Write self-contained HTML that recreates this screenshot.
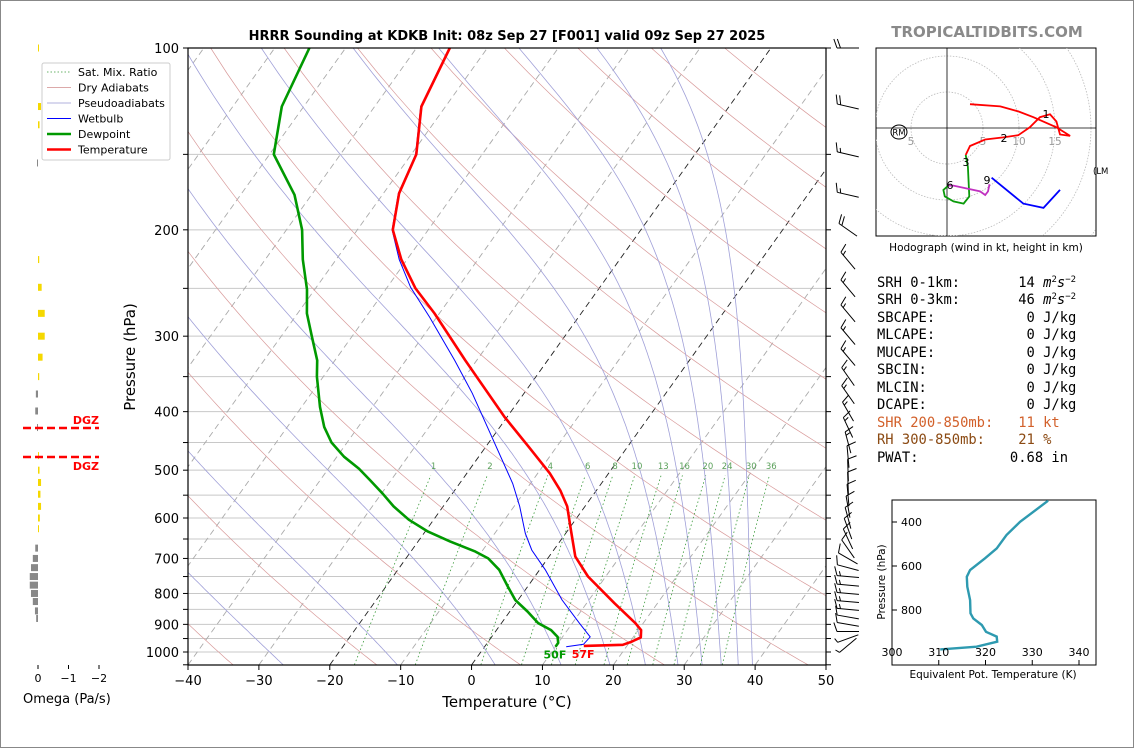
<!DOCTYPE html>
<html><head><meta charset="utf-8"><style>
html,body{margin:0;padding:0;background:#fff;}
svg{display:block;font-family:"DejaVu Sans","Liberation Sans",sans-serif;}
</style></head><body>
<svg id="s" width="1134" height="748" viewBox="0 0 1134 748" xmlns="http://www.w3.org/2000/svg">
<rect x="0.5" y="0.5" width="1133" height="747" fill="#fff" stroke="#888"/>
<defs><clipPath id="pc"><rect x="188" y="48" width="638" height="617"/></clipPath>
<clipPath id="hc"><rect x="876" y="48" width="220" height="188"/></clipPath>
<clipPath id="tc"><rect x="892" y="500" width="204" height="165"/></clipPath></defs>
<text x="507" y="40" text-anchor="middle" font-size="13" font-weight="bold">HRRR Sounding at KDKB Init: 08z Sep 27 [F001] valid 09z Sep 27 2025</text>
<text x="987" y="37" text-anchor="middle" font-size="15" font-weight="bold" fill="#8a8a8a">TROPICALTIDBITS.COM</text>
<g id="bg" clip-path="url(#pc)"></g>
<g id="series" clip-path="url(#pc)"></g>
<g id="axes"></g>
<g id="barbs"></g>
<g id="omega"></g>
<g id="hodo"></g>
<g id="the"></g>
<g id="txt" font-family="'DejaVu Sans Mono','Liberation Mono',monospace" font-size="13.8">
<text x="877" y="287" style="white-space:pre">SRH 0-1km:       14 <tspan font-style="italic">m</tspan><tspan dy="-5" font-size="9">2</tspan><tspan dy="5" font-style="italic">s</tspan><tspan dy="-5" font-size="9">−2</tspan></text>
<text x="877" y="304" style="white-space:pre">SRH 0-3km:       46 <tspan font-style="italic">m</tspan><tspan dy="-5" font-size="9">2</tspan><tspan dy="5" font-style="italic">s</tspan><tspan dy="-5" font-size="9">−2</tspan></text>
<text x="877" y="322" style="white-space:pre">SBCAPE:           0 J/kg</text>
<text x="877" y="339" style="white-space:pre">MLCAPE:           0 J/kg</text>
<text x="877" y="357" style="white-space:pre">MUCAPE:           0 J/kg</text>
<text x="877" y="374" style="white-space:pre">SBCIN:            0 J/kg</text>
<text x="877" y="392" style="white-space:pre">MLCIN:            0 J/kg</text>
<text x="877" y="409" style="white-space:pre">DCAPE:            0 J/kg</text>
<text x="877" y="427" style="white-space:pre" fill="#d2602a">SHR 200-850mb:   11 kt</text>
<text x="877" y="444" style="white-space:pre" fill="#8b4a13">RH 300-850mb:    21 %</text>
<text x="877" y="462" style="white-space:pre">PWAT:           0.68 in</text>
</g>
</svg>
<script>
// ---- Sounding data ----
const tempP=[100,125,150,174,200,224,250,275,329,408,457,506,540,574,628,695,750,830,896,920,946,962,973,977];
const tempC=[-65.3,-63.4,-59.3,-57.8,-55.0,-50.8,-45.9,-40.7,-31.6,-20.4,-14.0,-8.3,-5.1,-2.5,0.4,3.7,7.5,13.9,18.9,20.4,21.1,20.2,19.3,13.9];
const dewP=[100,125,150,175,200,224,251,275,300,329,350,393,424,450,475,497,519,546,574,604,632,656,682,700,731,779,820,857,896,920,944,966,980];
const dewC=[-85.1,-83.1,-79.4,-72.4,-67.8,-64.7,-61.1,-58.7,-55.7,-52.5,-50.9,-47.4,-44.8,-42.2,-39.0,-35.7,-33.0,-29.9,-27.0,-23.5,-19.6,-15.5,-10.9,-8.4,-5.7,-2.8,-0.4,2.5,5.2,7.7,9.3,10.0,10.0];
const wbP=[100,125,150,174,200,224,249,279,329,373,446,526,574,636,678,731,820,896,944,971,980];
const wbC=[-65.4,-63.5,-59.4,-57.9,-55.1,-51.1,-46.7,-41.0,-33.1,-27.3,-19.6,-12.5,-9.2,-5.7,-3.1,0.8,6.2,11.0,13.9,13.7,11.5];
const isoT=[-120,-110,-100,-90,-80,-70,-60,-50,-40,-30,-10,10,20,30,40,50];
const hiIsoT=[-20,0];
const dryT0=[-77,-57,-37,-17,3,23,43,63,83,103,123,143,163,183,203];
const moistT0=[-26.6,-10.5,3.3,12.6,19.5,24.5,29.1,32.5,35.2,37.6,39.6];
const mixW=[1,2,4,6,8,10,13,16,20,24,30,36];
const pGrid=[100,150,200,250,300,350,400,450,500,550,600,650,700,750,800,850,900,950,1000];
const pLabels=[100,200,300,400,500,600,700,800,900,1000];
const tTicks=[-40,-30,-20,-10,0,10,20,30,40,50];
// winds (direction from, degrees; speed kt)
const barbP=[100,125,150,175,200,225,250,275,300,325,350,375,400,425,450,475,500,525,550,575,600,625,650,675,700,725,750,775,800,825,850,875,900,925,950,975];
const barbDir=[270,283,283,283,305,320,320,320,320,320,325,325,330,335,345,355,358,358,355,350,345,340,335,325,300,285,275,275,275,275,275,280,280,270,250,230];
const barbSpd=[20,20,15,15,20,15,15,15,15,15,15,15,15,15,15,10,10,10,10,10,10,10,10,10,10,10,15,15,15,15,15,10,10,10,5,5];
// omega
const omP=[100,125,134,155,224,249,275,300,325,350,374,399,425,473,500,524,548,574,600,625,673,700,725,750,775,800,825,855,880];
const omV=[-0.01,-0.1,-0.05,0.03,-0.04,-0.12,-0.22,-0.22,-0.15,-0.04,0.07,0.09,0.02,-0.02,-0.05,-0.1,-0.08,-0.1,-0.06,-0.03,0.09,0.17,0.23,0.27,0.27,0.23,0.17,0.1,0.06];
// hodograph (kt)
const hodoRedU=[3.2,7.4,9.9,12.0,15.2,17.1,15.7,15.2,14.3,12.9,11.5,9.9,7.8,5.3,3.2,2.6];
const hodoRedV=[3.3,3.0,2.3,1.5,0.1,-1.1,-0.9,0.9,1.9,1.5,0.1,-1.0,-1.3,-1.6,-2.5,-3.75];
const hodoGreenU=[2.6,2.9,3.1,2.3,0.9,-0.3,-0.5,0.2];
const hodoGreenV=[-3.75,-5.4,-9.5,-10.5,-10.2,-9.5,-8.6,-8.0];
const hodoMagU=[0.2,0.9,4.6,5.3,5.7,5.9];
const hodoMagV=[-8.0,-8.0,-8.8,-9.3,-8.8,-7.8];
const hodoBlueU=[6.2,10.6,13.4,15.7];
const hodoBlueV=[-6.9,-10.5,-11.1,-8.6];
// theta-e
const thP=[303,399,459,520,565,618,649,694,755,815,838,868,899,921,944,967,979];
const thK=[333.4,327.4,324.5,322.4,319.9,316.7,316.0,316.1,316.7,316.8,317.4,319.2,320.1,322.4,322.5,318.1,310.3];

const NS='http://www.w3.org/2000/svg';
function mk(tag,parent,attrs){const e=document.createElementNS(NS,tag);for(const k in attrs)e.setAttribute(k,attrs[k]);document.getElementById(parent).appendChild(e);return e;}
const yP=p=>48+604*Math.log10(p/100);
const xT=(T,p)=>188+(T+40)*7.0889+(665-yP(p))*0.715;
function poly(ps,ts){return ps.map((p,i)=>xT(ts[i],p).toFixed(1)+','+yP(p).toFixed(1)).join(' ');}
const PB=1050;

// pressure grid
pGrid.forEach(p=>{const l=mk('line','bg',{x1:188,x2:826,y1:yP(p),y2:yP(p),stroke:'#c8c8c8','stroke-width':1});

});
// isotherms
isoT.forEach(t=>{const l=mk('line','bg',{x1:xT(t,PB),y1:yP(PB),x2:xT(t,100),y2:yP(100),stroke:'#aaa','stroke-width':0.9,'stroke-dasharray':'6,4'});

});
hiIsoT.forEach(t=>{const l=mk('line','bg',{x1:xT(t,PB),y1:yP(PB),x2:xT(t,100),y2:yP(100),stroke:'#222','stroke-width':0.9,'stroke-dasharray':'6,4'});

});
// dry adiabats
dryT0.forEach(t0=>{const ps=[],ts=[];for(let p=PB;p>=100;p-=10){ps.push(p);ts.push((t0+273.15)*Math.pow(p/1000,0.2857)-273.15);}
const l=mk('polyline','bg',{points:poly(ps,ts),fill:'none',stroke:'#d89a9a','stroke-width':0.7});

});
// moist adiabats (start temps at 1050 hPa)
function rs(T,p){const es=6.112*Math.exp(17.67*T/(T+243.5));return 0.622*es/(p-es);}
function dTdp(T,p){const Tk=T+273.15,r=rs(T,p);return (287*Tk+2.5e6*r)/(p*(1005+2.5e6*2.5e6*r*0.622/(287*Tk*Tk)));}
moistT0.forEach(t0=>{let ps=[PB],ts=[t0];let T=t0;for(let p=PB;p>100;p-=5){T-=dTdp(T,p)*5;ps.push(p-5);ts.push(T);}
const l=mk('polyline','bg',{points:poly(ps,ts),fill:'none',stroke:'#a0a0d8','stroke-width':0.8});

});
// mixing ratio
function tdw(w,p){const e=w*p/(622+w);const a=Math.log(e/6.112);return 243.5*a/(17.67-a);}
mixW.forEach(w=>{const ps=[],ts=[];for(let p=PB;p>=505;p-=15){ps.push(p);ts.push(tdw(w,p));}
const l=mk('polyline','bg',{points:poly(ps,ts),fill:'none',stroke:'#3a9a3a','stroke-width':0.8,'stroke-dasharray':'1.5,2.5'});


const t=mk('text','bg',{x:xT(tdw(w,497),497),y:469,'font-size':8.5,fill:'#5aa05a','text-anchor':'middle'});t.textContent=w;

});

// series
const wb=mk('polyline','series',{points:poly(wbP,wbC),fill:'none',stroke:'#0000ff','stroke-width':1});


const dw=mk('polyline','series',{points:poly(dewP,dewC),fill:'none',stroke:'#009900','stroke-width':2.6,'stroke-linejoin':'round'});


const tl=mk('polyline','series',{points:poly(tempP,tempC),fill:'none',stroke:'#ff0000','stroke-width':2.6,'stroke-linejoin':'round'});


const sd=mk('text','series',{x:xT(dewC[dewC.length-1],dewP[dewP.length-1])-12,y:yP(dewP[dewP.length-1])+12,'font-size':11,'font-weight':'bold',fill:'#009900'});sd.textContent=Math.round(dewC[dewC.length-1]*1.8+32)+'F';


const st=mk('text','series',{x:xT(tempC[tempC.length-1],tempP[tempP.length-1])-12,y:yP(tempP[tempP.length-1])+12,'font-size':11,'font-weight':'bold',fill:'#ff0000'});st.textContent=Math.round(tempC[tempC.length-1]*1.8+32)+'F';



// axes
const fr=mk('rect','axes',{x:188,y:48,width:638,height:617,fill:'none',stroke:'#000','stroke-width':1.2});


pGrid.concat([1050]).forEach(p=>{const y=yP(p);
const a=mk('line','axes',{x1:183,x2:188,y1:y,y2:y,stroke:'#000'});
const b=mk('line','axes',{x1:826,x2:831,y1:y,y2:y,stroke:'#000'});});
pLabels.forEach(p=>{const t=mk('text','axes',{x:179,y:yP(p)+5,'font-size':13,'text-anchor':'end'});t.textContent=p;

});
tTicks.forEach(v=>{const x=188+(v+40)*7.0889;
const a=mk('line','axes',{x1:x,x2:x,y1:665,y2:670,stroke:'#000'});
const t=mk('text','axes',{x:x,y:685,'font-size':13,'text-anchor':'middle'});t.textContent=(v<0?'−':'')+Math.abs(v);

});
const xt=mk('text','axes',{x:507,y:707,'font-size':15,'text-anchor':'middle'});xt.textContent='Temperature (°C)';


const yt=mk('text','axes',{x:135,y:357,'font-size':15,'text-anchor':'middle',transform:'rotate(-90 135 357)'});yt.textContent='Pressure (hPa)';


// legend
const lg=mk('rect','axes',{x:42,y:63,width:128,height:97,fill:'#fff','fill-opacity':0.85,stroke:'#ccc',rx:2});


const legN=['Sat. Mix. Ratio','Dry Adiabats','Pseudoadiabats','Wetbulb','Dewpoint','Temperature'];
const legC=['#3a9a3a','#d08c8c','#9999d0','#0000ff','#009900','#ff0000'];
const legW=[0.8,0.7,0.7,1,2.6,2.6];
legN.forEach((n,i)=>{const y=72+i*15.5;
const l=mk('line','axes',{x1:47,x2:71,y1:y,y2:y,stroke:legC[i],'stroke-width':legW[i]});if(i==0)l.setAttribute('stroke-dasharray','1.5,2');


const t=mk('text','axes',{x:78,y:y+4,'font-size':11});t.textContent=n;

});

// wind barbs (pivot at staff middle, x=848)
barbP.forEach((p,i)=>{const y=yP(p),cx=848;const a=barbDir[i]*Math.PI/180;const L=22;
const dx=Math.sin(a),dy=-Math.cos(a);
const bx0=cx-dx*L/2,by0=y-dy*L/2,ex=cx+dx*L/2,ey=y+dy*L/2;
const s=mk('line','barbs',{x1:bx0,y1:by0,x2:ex,y2:ey,stroke:'#000','stroke-width':1});


const px=-dy,py=dx;
let spd=barbSpd[i],k=0;
while(spd>=5){const len=spd>=10?9:4.5;const bx=ex-dx*k*3.5,by=ey-dy*k*3.5;
const b=mk('line','barbs',{x1:bx,y1:by,x2:bx+px*len+dx*len*0.35,y2:by+py*len+dy*len*0.35,stroke:'#000','stroke-width':1});


spd-=(len>5?10:5);k++;}});

// omega panel
const om0=38,omS=30.5;
omP.forEach((p,i)=>{const v=omV[i];const w=Math.max(Math.abs(v)*omS,1);const x=v<0?om0:om0-w;
const r=mk('rect','omega',{x:x,y:yP(p)-3.5,width:w,height:7,fill:v<0?'#f5d800':'#888'});

});
[0,-1,-2].forEach(v=>{const x=om0-v*omS;
const a=mk('line','omega',{x1:x,x2:x,y1:665,y2:669,stroke:'#000'});
const t=mk('text','omega',{x:x,y:682,'font-size':11,'text-anchor':'middle'});t.textContent=v==0?'0':'−'+Math.abs(v);

});
const ot=mk('text','omega',{x:23,y:703,'font-size':13});ot.textContent='Omega (Pa/s)';


[428,457].forEach((y,i)=>{const l=mk('line','omega',{x1:23,x2:99,y1:y,y2:y,stroke:'#ff0000','stroke-width':2.4,'stroke-dasharray':'8,4'});


const t=mk('text','omega',{x:99,y:i==0?y-4:y+13,'font-size':11,'font-weight':'bold',fill:'#ff0000','text-anchor':'end'});t.textContent='DGZ';

});

// hodograph
const hx0=947,hy0=128,hk=7.2;
const hb=mk('rect','hodo',{x:876,y:48,width:220,height:188,fill:'#fff',stroke:'#000','stroke-width':1});


const hg=mk('g','hodo',{'clip-path':'url(#hc)'});hg.id='hg';


[5,10,15,20,25].forEach(r=>{const c=mk('circle','hg',{cx:hx0,cy:hy0,r:r*hk,fill:'none',stroke:'#bbb','stroke-width':0.8,'stroke-dasharray':'1.5,1.5'});

});
const ha=mk('line','hg',{x1:876,x2:1096,y1:hy0,y2:hy0,stroke:'#000','stroke-width':0.8});
const hv=mk('line','hg',{x1:hx0,x2:hx0,y1:48,y2:236,stroke:'#000','stroke-width':0.8});
[[-5,'5'],[5,'5'],[10,'10'],[15,'15']].forEach(d=>{const t=mk('text','hg',{x:hx0+d[0]*hk,y:145,'font-size':10.5,fill:'#999','text-anchor':'middle'});t.textContent=d[1];

});
function hpts(U,V){return U.map((u,i)=>(hx0+u*hk).toFixed(1)+','+(hy0-V[i]*hk).toFixed(1)).join(' ');}
[[hodoRedU,hodoRedV,'#ff0000','hodograph-0-3km'],[hodoGreenU,hodoGreenV,'#0a9a0a','hodograph-3-6km'],[hodoMagU,hodoMagV,'#c030c0','hodograph-6-9km'],[hodoBlueU,hodoBlueV,'#0000ff','hodograph-9km-plus']].forEach(s=>{
const l=mk('polyline','hg',{points:hpts(s[0],s[1]),fill:'none',stroke:s[2],'stroke-width':1.8});

});
[['1',1046,118],['2',1004,142],['3',966,166],['6',950,189],['9',987,184]].forEach(d=>{const t=mk('text','hg',{x:d[1],y:d[2],'font-size':11,'text-anchor':'middle'});t.textContent=d[0];

});
const rm=mk('ellipse','hodo',{cx:899,cy:132,rx:8,ry:7,fill:'none',stroke:'#000'});
const rmt=mk('text','hodo',{x:899,y:135.5,'font-size':8.5,'text-anchor':'middle'});rmt.textContent='RM';
const lmt=mk('text','hodo',{x:1093,y:174,'font-size':8.5});lmt.textContent='(LM';
const hcap=mk('text','hodo',{x:986,y:251,'font-size':10.5,'text-anchor':'middle'});hcap.textContent='Hodograph (wind in kt, height in km)';



// theta-e panel
const tx=k=>892+(k-300)*4.675, ty=p=>522+(p-400)*0.22;
const tb=mk('rect','the',{x:892,y:500,width:204,height:165,fill:'#fff',stroke:'#000','stroke-width':1});


const tc=mk('polyline','the',{points:thK.map((k,i)=>tx(k).toFixed(1)+','+ty(thP[i]).toFixed(1)).join(' '),fill:'none',stroke:'#2e9ab0','stroke-width':2.4,'clip-path':'url(#tc)'});


[400,600,800].forEach(p=>{const a=mk('line','the',{x1:892,x2:897,y1:ty(p),y2:ty(p),stroke:'#000'});
const t=mk('text','the',{x:922,y:ty(p)+4,'font-size':11,'text-anchor':'end'});t.textContent=p;

});
[300,310,320,330,340].forEach(k=>{const a=mk('line','the',{x1:tx(k),x2:tx(k),y1:660,y2:665,stroke:'#000'});
const t=mk('text','the',{x:tx(k),y:656,'font-size':11,'text-anchor':'middle'});t.textContent=k;

});
const tht=mk('text','the',{x:993,y:678,'font-size':10.5,'text-anchor':'middle'});tht.textContent='Equivalent Pot. Temperature (K)';


const thy=mk('text','the',{x:885,y:582,'font-size':10.5,'text-anchor':'middle',transform:'rotate(-90 885 582)'});thy.textContent='Pressure (hPa)';


</script>
</body></html>
